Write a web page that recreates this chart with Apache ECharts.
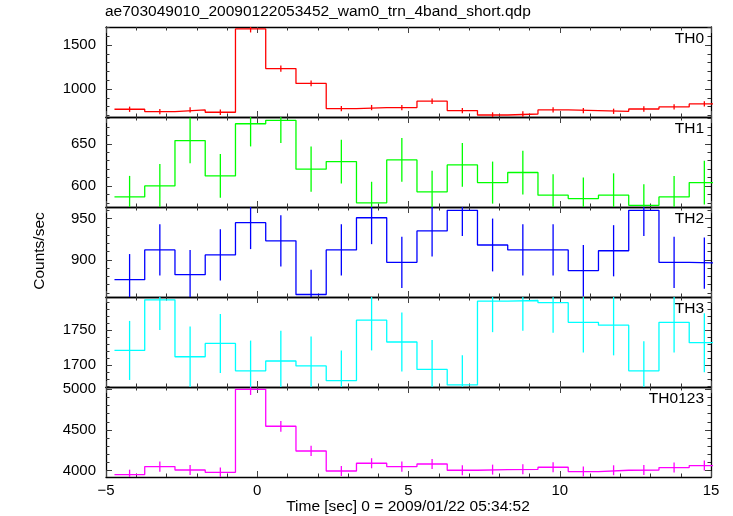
<!DOCTYPE html>
<html>
<head>
<meta charset="utf-8">
<script src="https://cdn.jsdelivr.net/npm/echarts@6/dist/echarts.min.js"></script>
<style>html,body{margin:0;padding:0;background:#fff;}#c{width:733px;height:516px;}</style>
</head>
<body>
<div id="c"></div>
<script>
const title = 'ae703049010_20090122053452_wam0_trn_4band_short.qdp';
const xTitle = 'Time [sec] 0 = 2009/01/22 05:34:52';
const yTitle = 'Counts/sec';

const times = [-4.22,-3.22,-2.22,-1.22,-0.22,0.78,1.78,2.78,3.78,4.78,5.78,6.78,7.78,8.78,9.78,10.78,11.78,12.78,13.78,14.78];
const binWidth = 1.0;

const th0 = [771,745,763,737,1684,1233,1065,779,790,790,863,756,706,717,763,756,748,774,797,832];
const th0Err = [30,30,30,30,40,35,33,30,30,30,31,30,30,30,30,30,30,30,30,31];

const th1 = [587,600,654,612,674,678,620,629,580,631,593,625,604,616,589,585,589,577,587,604];
const th1Err = [25,26,27,26,27,27,27,26,25,26,25,26,25,26,25,25,26,25,25,26];

const th2 = [876,912,882,906,945,923,858,912,951,897,935,960,918,912,912,887,911,960,897,896];
const th2Err = [31,31,30,31,32,31,30,31,32,31,31,31,32,31,31,31,31,31,31,31];

const th3 = [1721,1793,1712,1731,1692,1706,1699,1678,1764,1733,1694,1672,1791,1792,1789,1761,1757,1692,1761,1732];
const th3Err = [42,43,43,42,43,43,42,43,43,42,42,42,44,43,43,43,43,42,43,42];

const th0123 = [3951,4049,4007,3979,5000,4545,4241,3995,4090,4049,4081,4004,4012,4016,4041,3988,4004,4007,4037,4062];
const th0123Err = [60,62,61,60,70,66,63,61,62,62,62,61,61,61,61,61,61,61,62,62];

const xMin = -5, xMax = 15, xMajor = 5;

const panels = [
  {name:'TH0', values:th0, errors:th0Err, color:'#ff0000', min:683, max:1706,
   major:[1000,1500], minor:[700,800,900,1000,1100,1200,1300,1400,1500,1600,1700]},
  {name:'TH1', values:th1, errors:th1Err, color:'#00ff00', min:575, max:682,
   major:[600,650], minor:[580,590,600,610,620,630,640,650,660,670,680]},
  {name:'TH2', values:th2, errors:th2Err, color:'#0000ff', min:855, max:964,
   major:[900,950], minor:[860,870,880,890,900,910,920,930,940,950,960]},
  {name:'TH3', values:th3, errors:th3Err, color:'#00ffff', min:1669, max:1797,
   major:[1700,1750], minor:[1670,1680,1690,1700,1710,1720,1730,1740,1750,1760,1770,1780,1790]},
  {name:'TH0123', values:th0123, errors:th0123Err, color:'#ff00ff', min:3921, max:5028,
   major:[4000,4500,5000], minor:[4000,4100,4200,4300,4400,4500,4600,4700,4800,4900,5000]}
];

const FONT = 'Liberation Sans, Arial, Helvetica, sans-serif';
const gridLeft = 106, gridRight = 22, gridTop = 27, panelH = 90;

const grids = [], xAxes = [], yAxes = [], series = [], graphics = [];

panels.forEach((p, i) => {
  grids.push({left: gridLeft, right: gridRight, top: gridTop + panelH * i, height: panelH, containLabel: false});
  const last = i === panels.length - 1;
  const xBase = {
    type: 'value', gridIndex: i, min: xMin, max: xMax, interval: xMajor,
    axisLine: {show: true, onZero: false, lineStyle: {color: '#000', width: 1.3}},
    axisTick: {show: true, inside: true, length: 6, lineStyle: {color: '#444'}},
    minorTick: {show: true, splitNumber: 5, length: 3.5, lineStyle: {color: '#333'}},
    splitLine: {show: false}
  };
  xAxes.push(Object.assign({}, xBase, {
    position: 'bottom',
    axisLabel: {show: last, color: '#000', fontSize: 15, fontFamily: FONT, margin: 6,
      formatter: v => String(v).replace('-', '\u2212')}
  }));
  xAxes.push(Object.assign({}, xBase, {position: 'top', axisLabel: {show: false}}));

  const yBase = {type: 'value', gridIndex: i, min: p.min, max: p.max, splitLine: {show: false}};
  const first = yAxes.length;
  yAxes.push(Object.assign({}, yBase, {
    position: 'left',
    axisLine: {show: true, onZero: false, lineStyle: {color: '#000', width: 1.3}},
    axisTick: {show: true, inside: true, length: 6, customValues: p.major, lineStyle: {color: '#444'}},
    axisLabel: {show: true, customValues: p.major, color: '#000', fontSize: 15, fontFamily: FONT, margin: 10,
      formatter: v => String(v)}
  }));
  yAxes.push(Object.assign({}, yBase, {
    position: 'left',
    axisLine: {show: false, onZero: false},
    axisTick: {show: true, inside: true, length: 3.5, customValues: p.minor, lineStyle: {color: '#333'}},
    axisLabel: {show: false}
  }));
  yAxes.push(Object.assign({}, yBase, {
    position: 'right',
    axisLine: {show: true, onZero: false, lineStyle: {color: '#000', width: 1.3}},
    axisTick: {show: true, inside: true, length: 6, customValues: p.major, lineStyle: {color: '#444'}},
    axisLabel: {show: false}
  }));
  yAxes.push(Object.assign({}, yBase, {
    position: 'right',
    axisLine: {show: false, onZero: false},
    axisTick: {show: true, inside: true, length: 3.5, customValues: p.minor, lineStyle: {color: '#333'}},
    axisLabel: {show: false}
  }));

  const stepData = p.values.map((v, k) => [times[k] - binWidth / 2, v]);
  stepData.push([times[times.length - 1] + binWidth / 2, p.values[p.values.length - 1]]);

  series.push({
    type: 'line', step: 'end', xAxisIndex: 2 * i, yAxisIndex: first,
    data: stepData, showSymbol: false, symbol: 'none', clip: true,
    lineStyle: {color: p.color, width: 1.3}, itemStyle: {color: p.color},
    animation: false, silent: true, emphasis: {disabled: true}
  });

  const errData = p.values.map((v, k) => [times[k], v - p.errors[k], v + p.errors[k]]);
  const col = p.color;
  series.push({
    type: 'custom', xAxisIndex: 2 * i, yAxisIndex: first, data: errData, clip: true,
    animation: false, silent: true,
    renderItem: (params, api) => {
      const cs = params.coordSys;
      const a = api.coord([api.value(0), api.value(1)]);
      const b = api.coord([api.value(0), api.value(2)]);
      const top = cs.y, bot = cs.y + cs.height;
      const y1 = Math.max(top, Math.min(bot, a[1]));
      const y2 = Math.max(top, Math.min(bot, b[1]));
      return {type: 'line', shape: {x1: a[0], y1: y1, x2: a[0], y2: y2}, style: {stroke: col, lineWidth: 1.3}};
    }
  });

  graphics.push({
    type: 'text', right: 29, top: gridTop + panelH * i + 4,
    style: {text: p.name, fill: '#000', font: '15.5px ' + FONT}
  });
});

graphics.push({type: 'text', left: 105, top: 4, style: {text: title, fill: '#000', font: '15.5px ' + FONT}});
graphics.push({type: 'text', x: 408, y: 507,
  style: {text: xTitle, fill: '#000', font: '15.5px ' + FONT, align: 'center', verticalAlign: 'middle'}});
graphics.push({type: 'text', x: 40, y: 251, rotation: Math.PI / 2,
  style: {text: yTitle, fill: '#000', font: '15.5px ' + FONT, align: 'center', verticalAlign: 'middle'}});

const chart = echarts.init(document.getElementById('c'), null, {renderer: 'canvas'});
chart.setOption({
  backgroundColor: '#fff',
  animation: false,
  grid: grids,
  xAxis: xAxes,
  yAxis: yAxes,
  series: series,
  graphic: graphics
});
</script>
</body>
</html>
